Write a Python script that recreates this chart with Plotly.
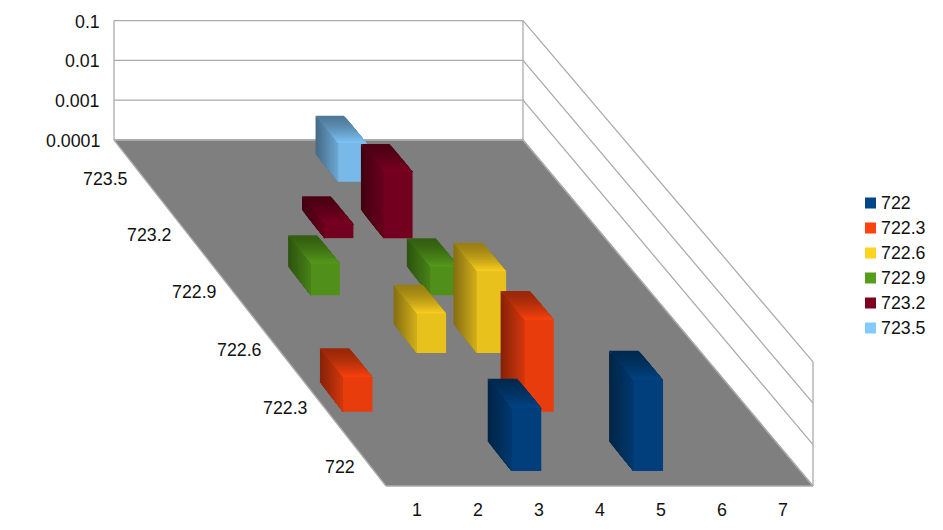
import math
import plotly.graph_objects as go

# ---------- data ----------
categories = [1, 2, 3, 4, 5, 6, 7]
series_names = ["722", "722.3", "722.6", "722.9", "723.2", "723.5"]
values_722 = [None, None, 0.0033, None, 0.0158, None, None]
values_7223 = [0.00068, None, None, 0.017, None, None, None]
values_7226 = [None, None, 0.00092, 0.0100, None, None, None]
values_7229 = [None, 0.00060, None, 0.00050, None, None, None]
values_7232 = [None, None, 0.00022, 0.0044, None, None, None]
values_7235 = [None, None, None, 0.00091, None, None, None]
series_colors = ["#004586", "#ff420e", "#ffd320", "#579d1c", "#7e0021", "#83caff"]
value_ticks = [0.0001, 0.001, 0.01, 0.1]
value_labels = ["0.0001", "0.001", "0.01", "0.1"]
all_values = [values_722, values_7223, values_7226, values_7229, values_7232, values_7235]

# ---------- oblique / perspective projection of the chart box ----------
PAGE = 8  # browser default body margin
W, H = 943 - 2 * PAGE, 530 - 2 * PAGE
K = 0.04
LOG_MIN = -4


def project(x, d, value):
    """x: category scale, d: series depth (0 = front row edge), value: data value."""
    u = d / len(series_names)
    t = u * (1 + K) / (1 + K * u)
    y0 = 486 - 346 * t
    left = 386 - 272 * t
    right = 813 - 290 * t
    sx = left + (right - left) * (x - 0.5) / len(categories)
    sy = y0 - (math.log10(value) - LOG_MIN) * 41.4 / (1 + K * u)
    return sx, sy


def rgb(color, f):
    r, g, b = (int(color[i:i + 2], 16) for i in (1, 3, 5))
    return f"rgb({round(r * f)},{round(g * f)},{round(b * f)})"


fig = go.Figure()


def poly(points, fill, line=None, close=True):
    xs = [p[0] for p in points]
    ys = [p[1] for p in points]
    if close:
        xs.append(xs[0])
        ys.append(ys[0])
    fig.add_trace(go.Scatter(
        x=xs, y=ys, mode="lines", fill="toself" if fill else None,
        fillcolor=fill, line=dict(width=1.3 if line else 0, color=line or "rgba(0,0,0,0)"),
        hoverinfo="skip", showlegend=False))


GRID = "#ababab"
XL, XR = 0.5, len(categories) + 0.5
DB = len(series_names)
vmin, vmax = value_ticks[0], value_ticks[-1]

# floor
poly([project(XL, 0, vmin), project(XR, 0, vmin), project(XR, DB, vmin), project(XL, DB, vmin)], "#7f7f7f", GRID)
# grid lines on the walls
for v in value_ticks:
    poly([project(XL, DB, v), project(XR, DB, v), project(XR, 0, v)], None, GRID, close=False)
poly([project(XL, DB, vmin), project(XL, DB, vmax)], None, GRID, close=False)
poly([project(XR, DB, vmin), project(XR, DB, vmax)], None, GRID, close=False)
poly([project(XR, 0, vmin), project(XR, 0, vmax)], None, GRID, close=False)

# ---------- bars, back to front ----------
STEPS = 14
BW = 0.243
BD = 0.25
for row in reversed(range(len(series_names))):
    color = series_colors[row]
    dc = row + 0.5
    for cat, val in zip(categories, all_values[row]):
        if val is None:
            continue
        x0, x1 = cat - BW, cat + BW
        df, db = dc - BD, dc + BD
        # left face: gradient from back to front
        for i in range(STEPS):
            s = i / STEPS
            d = db + (df - db) * s
            poly([project(x0, d, vmin), project(x0, df, vmin), project(x0, df, val), project(x0, d, val)],
                 rgb(color, 0.53 + 0.31 * s))
        # top face: gradient from back to front
        for i in range(STEPS):
            s = i / STEPS
            d = db + (df - db) * s
            poly([project(x0, d, val), project(x1, d, val), project(x1, df, val), project(x0, df, val)],
                 rgb(color, 0.6 + 0.4 * s ** 1.4))
        # front face
        poly([project(x0, df, vmin), project(x1, df, vmin), project(x1, df, val), project(x0, df, val)],
             rgb(color, 0.915))

# ---------- texts ----------
FONT = dict(family="Liberation Sans", size=17.8, color="#111111")
ann = []


def label(x, y, text, anchor):
    ann.append(dict(x=x, y=y, xref="x", yref="y", text=text, showarrow=False, font=FONT,
                    xanchor=anchor, yanchor="middle", borderpad=0))


for v, t in zip(value_ticks, value_labels):
    px, py = project(XL, DB, v)
    label(px - 13, py + 1, t, "right")
for i, name in enumerate(series_names):
    px, py = project(XL, i + 0.5, vmin)
    label(px - 7, py + 11, name, "right")
for c in categories:
    px, py = project(c, 0, vmin)
    label(px, py + 24, str(c), "center")

# legend
for i, (name, color) in enumerate(zip(series_names, series_colors)):
    ly = 203 + 25 * i
    fig.add_trace(go.Scatter(x=[870.5], y=[ly], mode="markers",
                             marker=dict(symbol="square", size=9, color=color,
                                         line=dict(color=color, width=2)),
                             hoverinfo="skip", showlegend=False))
    label(880, ly, name, "left")

fig.update_layout(
    width=W, height=H, margin=dict(l=0, r=0, t=0, b=0),
    paper_bgcolor="white", plot_bgcolor="white", annotations=ann, showlegend=False,
    xaxis=dict(range=[PAGE, PAGE + W], visible=False, fixedrange=True),
    yaxis=dict(range=[PAGE + H, PAGE], visible=False, fixedrange=True),
)
fig.write_html("out.html", config=dict(displayModeBar=False))
